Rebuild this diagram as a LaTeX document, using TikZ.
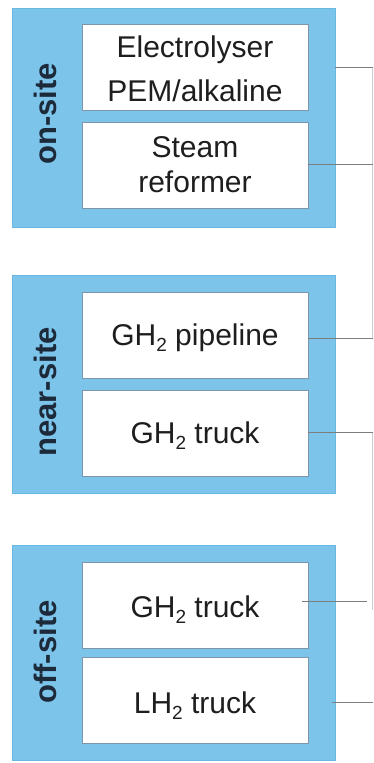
\documentclass[tikz,border=0pt]{standalone}
\usepackage{fontspec}
\setmainfont{Liberation Sans}
\definecolor{blk}{RGB}{125,196,234}
\definecolor{blkedge}{RGB}{105,184,226}
\definecolor{boxedge}{RGB}{125,150,170}
\definecolor{txtc}{RGB}{30,30,30}
\definecolor{lblc}{RGB}{28,42,58}
\definecolor{linec}{RGB}{125,125,125}
\definecolor{vlinec}{RGB}{205,205,205}
\newcommand\hsub[1]{\raisebox{-6.5pt}{\fontsize{19}{20}\selectfont #1}}
\tikzset{
  block/.style={draw=blkedge, fill=blk, line width=0.8pt, minimum width=323pt, inner sep=0pt},
  itembox/.style={draw=boxedge, fill=white, line width=0.9pt, minimum width=226pt, minimum height=86pt, inner sep=0pt},
  txt/.style={text=txtc, font=\fontsize{30}{36}\selectfont, anchor=base, inner sep=0pt},
  lbl/.style={text=lblc, font=\fontsize{31}{36}\selectfont\bfseries, rotate=90, anchor=mid, inner sep=0pt},
  conn/.style={draw=linec, line width=0.9pt},
  vconn/.style={draw=vlinec, line width=0.9pt}
}
\begin{document}
\begin{tikzpicture}[x=1pt,y=-1pt]
\useasboundingbox[fill=white] (0,0) rectangle (373,763);
% blocks
\node[block, minimum height=219pt] (on) at (173.5,117.5) {};
\node[block, minimum height=218pt] (near) at (173.5,384) {};
\node[block, minimum height=215pt] (off) at (173.5,652.5) {};
% item boxes
\node[itembox] (elec) at (195,67.5) {};
\node[itembox] (steam) at (195,165) {};
\node[itembox] (pipe) at (195,335.5) {};
\node[itembox] (ntruck) at (195,433.5) {};
\node[itembox] (gtruck) at (195,605) {};
\node[itembox] (ltruck) at (195,700.5) {};
% texts
\node[txt] (t1) at (195,57) {Electrolyser};
\node[txt] (t2) at (195,101) {PEM/alkaline};
\node[txt] (t3) at (195,157) {Steam};
\node[txt] (t4) at (195,192) {reformer};
\node[txt] (t5) at (195,345) {GH\hsub{2} pipeline};
\node[txt] (t6) at (195,443) {GH\hsub{2} truck};
\node[txt] (t7) at (195,617) {GH\hsub{2} truck};
\node[txt] (t8) at (195,713) {LH\hsub{2} truck};
% side labels
\node[lbl] (l1) at (54,114) {on-site};
\node[lbl] (l2) at (54,392) {near-site};
\node[lbl] (l3) at (54,652) {off-site};
% connector ends
\coordinate (c1) at (373,67);
\coordinate (c2) at (373,164);
\coordinate (c3) at (373,338);
\coordinate (c4) at (373,432);
\coordinate (c5) at (367,601);
\coordinate (c6) at (373,702);
\coordinate (v1a) at (372,67);
\coordinate (v1b) at (372,338);
\coordinate (v2a) at (372,432);
\coordinate (v2b) at (372,610);
% vertical faint lines
\draw[vconn] (v1a) -- (v1b);
\draw[vconn] (v2a) -- (v2b);
% connectors
\draw[conn] (on.east |- c1) -- (c1);
\draw[conn] (steam.east |- c2) -- (c2);
\draw[conn] (pipe.east |- c3) -- (c3);
\draw[conn] (ntruck.east |- c4) -- (c4);
\draw[conn] ([xshift=-6pt]gtruck.east |- c5) -- (c5);
\draw[conn] ([xshift=-3pt]off.east |- c6) -- (c6);
\end{tikzpicture}
\end{document}
